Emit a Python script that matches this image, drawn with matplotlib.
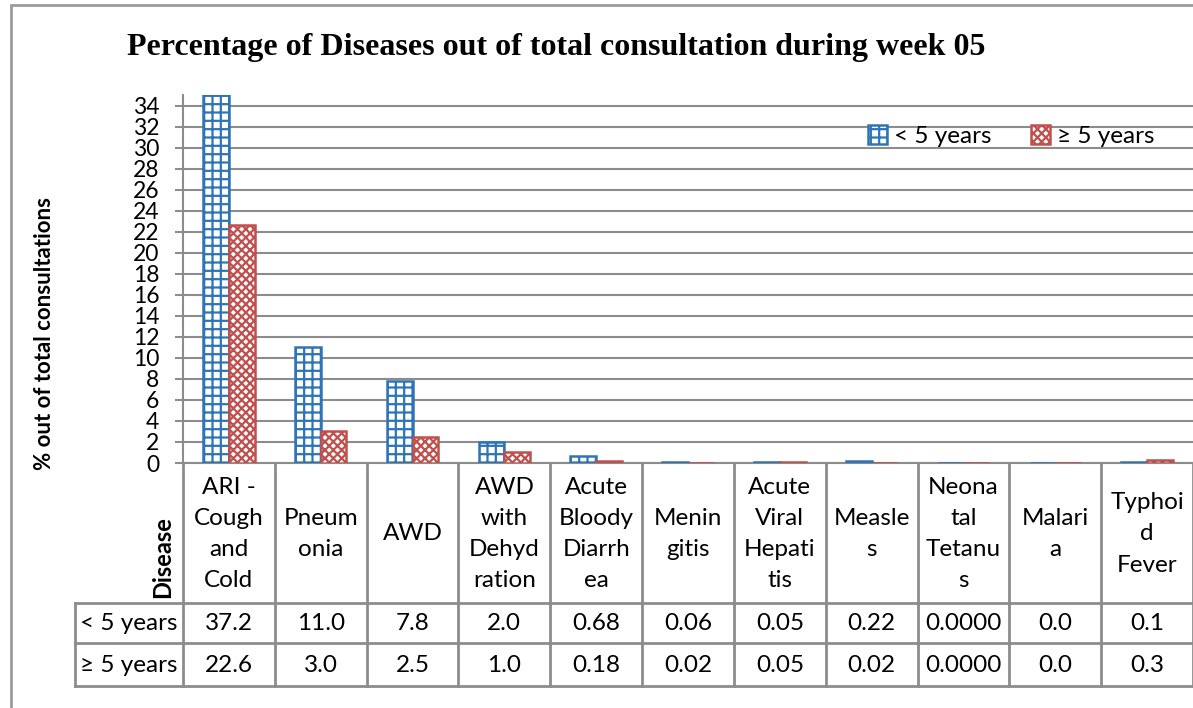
import matplotlib
matplotlib.use("Agg")
import matplotlib.pyplot as plt
from matplotlib.patches import Rectangle
import numpy as np

plt.rcParams["font.family"] = ["Lato", "DejaVu Sans"]
plt.rcParams["hatch.linewidth"] = 1.6

# ── data ──
diseases = ["ARI -\nCough\nand\nCold", "Pneum\nonia", "AWD", "AWD\nwith\nDehyd\nration",
            "Acute\nBloody\nDiarrh\nea", "Menin\ngitis", "Acute\nViral\nHepati\ntis",
            "Measle\ns", "Neona\ntal\nTetanu\ns", "Malari\na", "Typhoi\nd\nFever"]
under5 = [37.2, 11.0, 7.8, 2.0, 0.68, 0.06, 0.05, 0.22, 0.0, 0.0, 0.1]
over5 = [22.6, 3.0, 2.5, 1.0, 0.18, 0.02, 0.05, 0.02, 0.0, 0.0, 0.3]
under5_txt = ["37.2", "11.0", "7.8", "2.0", "0.68", "0.06", "0.05", "0.22", "0.0000", "0.0", "0.1"]
over5_txt = ["22.6", "3.0", "2.5", "1.0", "0.18", "0.02", "0.05", "0.02", "0.0000", "0.0", "0.3"]
series = ["< 5 years", "\u2265 5 years"]

W, H = 1193, 708
blue = "#2E75B6"
red = "#C0504D"
grid_c = "#8C8C8C"
fs = 17.5

fig = plt.figure(figsize=(W / 100, H / 100), dpi=100)

# outer frame
fig.patches.append(Rectangle((11 / W, -0.02), 1.2, 703 / H + 0.02, transform=fig.transFigure,
                             fill=False, ec="#9A9A9A", lw=2))

ax = fig.add_axes([183 / W, (H - 463) / H, (W - 183) / W, (463 - 95) / H])
x = np.arange(len(diseases))
w = 0.28
ax.bar(x - w / 2, under5, w, facecolor="white", edgecolor=blue, hatch="++", lw=1.8,
       label=series[0], zorder=3)
ax.bar(x + w / 2, over5, w, facecolor="white", edgecolor=red, hatch="xxxx", lw=1.8,
       label=series[1], zorder=3)

ax.set_xlim(-0.5, 10.5)
ax.set_ylim(0, 35)
ax.set_yticks(np.arange(0, 35, 2))
ax.tick_params(axis="y", labelsize=16.5, length=6, width=1.5, color=grid_c, pad=11)
ax.set_xticks([])
ax.grid(axis="y", color=grid_c, lw=1.5, zorder=0)
for s in ["top", "right"]:
    ax.spines[s].set_visible(False)
for s in ["left", "bottom"]:
    ax.spines[s].set_color(grid_c)
    ax.spines[s].set_linewidth(1.5)

ax.legend(loc="center", bbox_to_anchor=(0.82, 0.889), ncol=2, frameon=False, fontsize=fs,
          handlelength=0.8, handleheight=0.8, handletextpad=0.3, columnspacing=1.6)

# ── data table below ──
tab = fig.add_axes([183 / W, (H - 686) / H, (W - 183) / W, (686 - 463) / H])
tab.set_xlim(-0.5, 10.5)
tab.set_ylim(686, 463)
tab.axis("off")
left_edge = -0.5 - 108 / 92
tc = "#8C8C8C"
for i in range(len(diseases) + 1):
    tab.plot([i - 0.5, i - 0.5], [463, 686], color=tc, lw=2, clip_on=False)
for yy in [603, 643, 686]:
    tab.plot([left_edge, 10.5], [yy, yy], color=tc, lw=2, clip_on=False)
tab.plot([left_edge, left_edge], [603, 686], color=tc, lw=2, clip_on=False)

for i, name in enumerate(diseases):
    tab.text(i, 534, name, ha="center", va="center", fontsize=fs, linespacing=1.6)
    tab.text(i, 624, under5_txt[i], ha="center", va="center", fontsize=fs)
    tab.text(i, 665, over5_txt[i], ha="center", va="center", fontsize=fs)
lab_x = (left_edge - 0.5) / 2
tab.text(lab_x, 624, series[0], ha="center", va="center", fontsize=fs, clip_on=False)
tab.text(lab_x, 665, series[1], ha="center", va="center", fontsize=fs, clip_on=False)
tab.text(-0.5 - 20 / 92, 598, "Disease", rotation=90, ha="center", va="bottom",
         fontsize=17, fontweight="bold")

fig.text(45 / W, 1 - 333 / H, "% out of total consultations", rotation=90, ha="center",
         va="center", fontsize=16, fontweight="bold")
fig.text(556 / W, 1 - 47 / H, "Percentage of Diseases out of total consultation during week 05",
         ha="center", va="center", fontsize=23, fontweight="bold", family="Liberation Serif")

fig.savefig("out.png", dpi=100)
